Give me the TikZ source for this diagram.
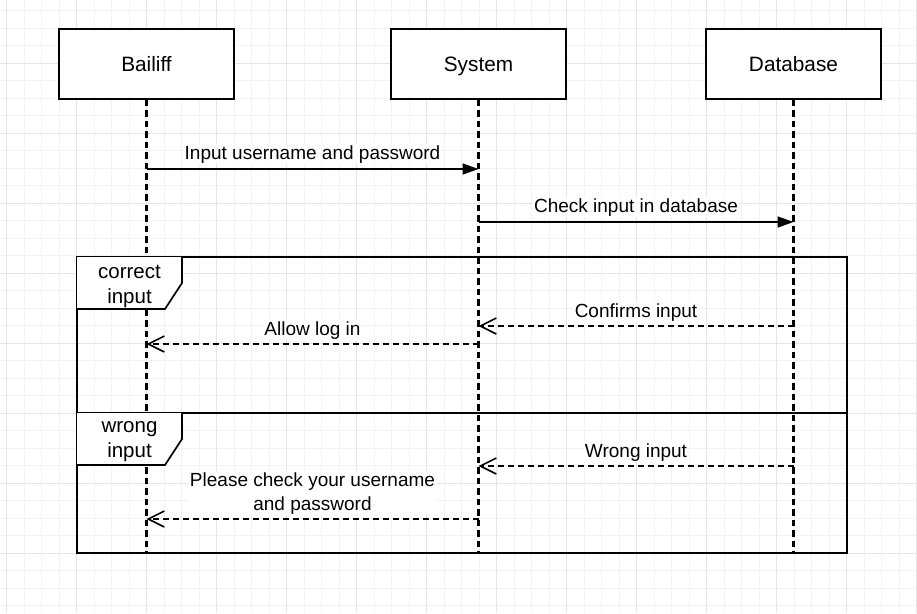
\documentclass[tikz,border=0pt]{standalone}
\usepackage{fontspec}
\setmainfont{Liberation Sans}
\usetikzlibrary{arrows.meta,positioning}
\begin{document}
\begin{tikzpicture}
		[x=1pt,y=-1pt,
		minorline/.style={draw=black!5,line width=1pt},
		majorline/.style={draw=black!10,line width=1pt},
		head/.style={draw,fill=white,line width=1.5pt,minimum width=175pt,minimum height=70pt,text height=15pt,text depth=0pt,font=\fontsize{20.8}{24}\selectfont},
		lifeline/.style={line width=2.1pt,dash pattern=on 6.5pt off 4pt},
		call/.style={line width=1.7pt,-{Triangle[length=16pt,width=11pt]}},
		reply/.style={line width=1.8pt,dash pattern=on 6pt off 4pt,-{Straight Barb[length=16pt,width=16pt,line width=1.6pt]}},
		lbl/.style={fill=white,inner sep=1pt,align=center,font=\fontsize{19}{24}\selectfont},
		fragment/.style={draw,line width=1.7pt},
		tab/.style={align=center,inner sep=0pt,font=\fontsize{20.5}{25}\selectfont}]
		\useasboundingbox[fill=white] (0,0) rectangle (917,613);
		% background grid
		\foreach \k in {0,...,52}
		{
			\draw[minorline] (6.7+17.5*\k,0) -- (6.7+17.5*\k,613);
		}
		\foreach \k in {0,...,34}
		{
			\draw[minorline] (0,10.8+17.5*\k) -- (917,10.8+17.5*\k);
		}
		\foreach \k in {0,...,13}
		{
			\draw[majorline] (6.7+70*\k,0) -- (6.7+70*\k,613);
		}
		\foreach \k in {1,...,8}
		{
			\draw[majorline] (0,-6.7+70*\k) -- (917,-6.7+70*\k);
		}
		% heads and lifelines
		\node[head] (bailiff) at (146.5,64) {Bailiff};
		\node[head] (system) at (478.5,64) {System};
		\node[head] (database) at (793.5,64) {Database};
		\foreach \n in {bailiff,system,database}
		{
			\coordinate (\n end) at (\n.south |- 0,553);
			\draw[lifeline] (\n.south) -- (\n end);
			\foreach \y/\i in {169/1,222/2,326/3,344/4,466/5,519/6}
			{
				\coordinate (\n\i) at (\n.south |- 0,\y);
			}
		}
		% messages
		\draw[call] (bailiff1) -- node[lbl,above=4pt]{Input username and password} (system1);
		\draw[call] (system2) -- node[lbl,above=4pt]{Check input in database} (database2);
		\draw[reply] (database3) -- node[lbl,above=3pt]{Confirms input} (system3);
		\draw[reply] (system4) -- node[lbl,above=3pt]{Allow log in} (bailiff4);
		\draw[reply] (database5) -- node[lbl,above=3pt]{Wrong input} (system5);
		\draw[reply] (system6) -- node[lbl,above=3pt]{Please check your username\\and password} (bailiff6);
		% alt fragment
		\draw[fragment] (77,257) rectangle (847,553);
		\draw[fragment] (77,413) -- (847,413);
		\foreach \y/\name/\txt in {257/correct/correct\\input,413/wrong/wrong\\input}
		{
			\fill[white] (77,\y) -- (182,\y) -- (182,\y+26) -- (165,\y+52) -- (77,\y+52) -- cycle;
			\draw[fragment] (77,\y+52) -- (165,\y+52) -- (182,\y+26) -- (182,\y);
			\node[tab] (\name) at (129.5,\y+29) {\txt};
		}
	\end{tikzpicture}
\end{document}
